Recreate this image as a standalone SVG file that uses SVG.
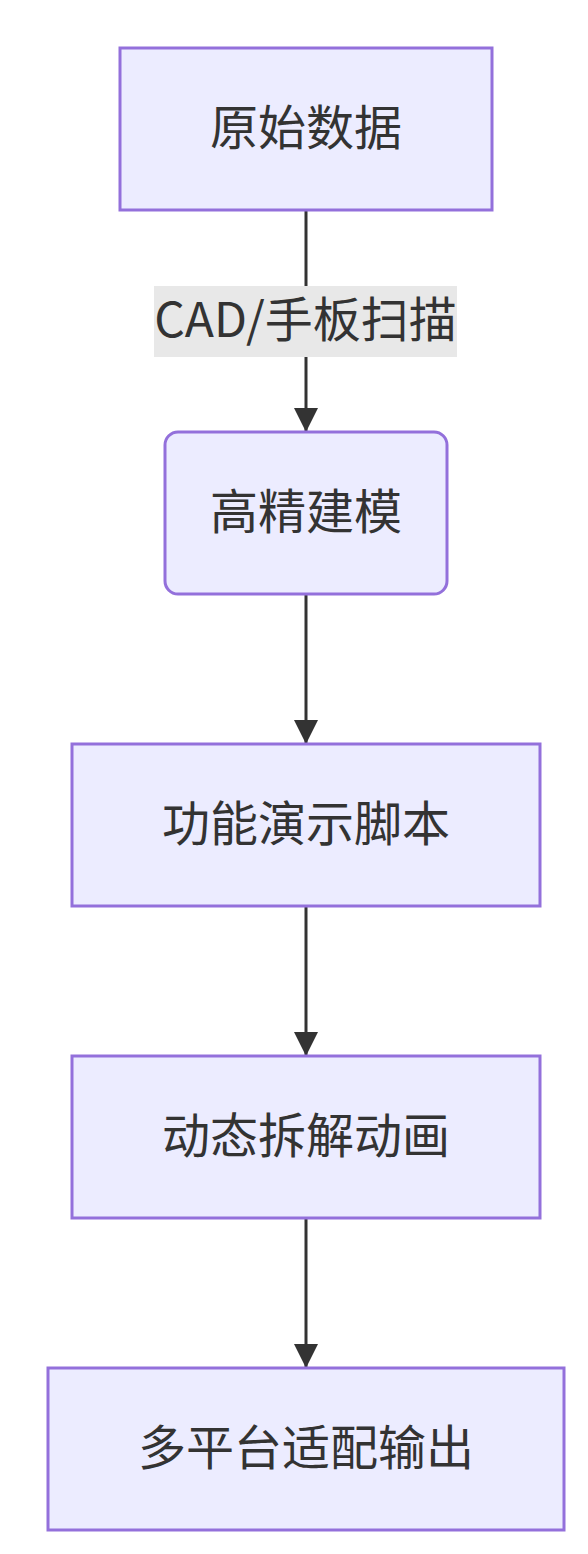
<svg xmlns="http://www.w3.org/2000/svg" width="588" height="1554" viewBox="0 0 588 1554">
<style>
.node rect{fill:#ECECFF;stroke:#9370DB;stroke-width:3}
.node text,.elabel text{font-family:"Noto Sans CJK SC","Noto Sans",sans-serif;font-size:48px;fill:#333333;text-anchor:middle;dominant-baseline:central}
.edge{stroke:#333333;stroke-width:3;fill:none}
.elabel rect{fill:#E8E8E8}
</style>
<defs>
<marker id="arrow" viewBox="0 0 10 10" refX="10" refY="5" markerUnits="userSpaceOnUse" markerWidth="24" markerHeight="24" orient="auto">
<path d="M0,0 L10,5 L0,10 z" fill="#333333"/>
</marker>
</defs>
<rect width="588" height="1554" fill="#FFFFFF"/>
<g id="edges">
<path class="edge" d="M306,210 L306,432" marker-end="url(#arrow)"/>
<path class="edge" d="M306,594 L306,744" marker-end="url(#arrow)"/>
<path class="edge" d="M306,906 L306,1056" marker-end="url(#arrow)"/>
<path class="edge" d="M306,1218 L306,1368" marker-end="url(#arrow)"/>
<g class="elabel">
<rect x="154" y="286" width="303" height="71"/>
<text x="305.5" y="316">CAD/手板扫描</text>
</g>
</g>
<g id="n1" class="node">
<rect x="120" y="48" width="372" height="162"/>
<text x="306" y="124">原始数据</text>
</g>
<g id="n2" class="node">
<rect x="165" y="432" width="282" height="162" rx="13" ry="13"/>
<text x="306" y="508">高精建模</text>
</g>
<g id="n3" class="node">
<rect x="72" y="744" width="468" height="162"/>
<text x="306" y="820">功能演示脚本</text>
</g>
<g id="n4" class="node">
<rect x="72" y="1056" width="468" height="162"/>
<text x="306" y="1132">动态拆解动画</text>
</g>
<g id="n5" class="node">
<rect x="48" y="1368" width="516" height="162"/>
<text x="306" y="1444">多平台适配输出</text>
</g>
</svg>
